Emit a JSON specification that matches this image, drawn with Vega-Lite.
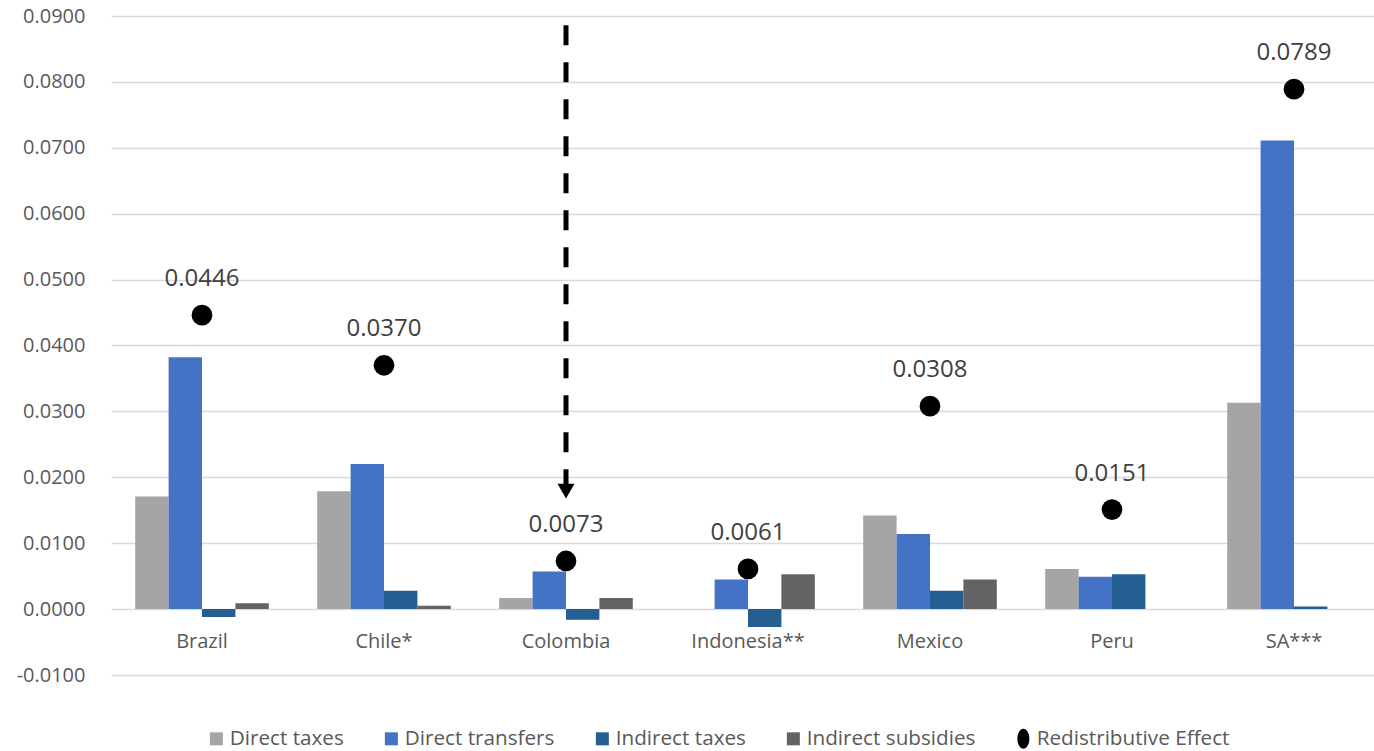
{
  "$schema": "https://vega.github.io/schema/vega-lite/v6.json",
  "autosize": {"type": "none"},
  "width": 1266,
  "height": 659,
  "padding": {"left": 108, "top": 16, "right": 0, "bottom": 76},
  "background": "#ffffff",
  "config": {
    "view": {"stroke": null},
    "font": "Open Sans"
  },
  "datasets": {
    "components": [
      {"country": "Brazil", "series": "Direct taxes", "value": 0.0171},
      {"country": "Brazil", "series": "Direct transfers", "value": 0.0382},
      {"country": "Brazil", "series": "Indirect taxes", "value": -0.0012},
      {"country": "Brazil", "series": "Indirect subsidies", "value": 0.0009},
      {"country": "Chile*", "series": "Direct taxes", "value": 0.0179},
      {"country": "Chile*", "series": "Direct transfers", "value": 0.0220},
      {"country": "Chile*", "series": "Indirect taxes", "value": 0.0028},
      {"country": "Chile*", "series": "Indirect subsidies", "value": 0.0005},
      {"country": "Colombia", "series": "Direct taxes", "value": 0.0017},
      {"country": "Colombia", "series": "Direct transfers", "value": 0.0057},
      {"country": "Colombia", "series": "Indirect taxes", "value": -0.0016},
      {"country": "Colombia", "series": "Indirect subsidies", "value": 0.0017},
      {"country": "Indonesia**", "series": "Direct taxes", "value": 0.0},
      {"country": "Indonesia**", "series": "Direct transfers", "value": 0.0045},
      {"country": "Indonesia**", "series": "Indirect taxes", "value": -0.0027},
      {"country": "Indonesia**", "series": "Indirect subsidies", "value": 0.0053},
      {"country": "Mexico", "series": "Direct taxes", "value": 0.0142},
      {"country": "Mexico", "series": "Direct transfers", "value": 0.0114},
      {"country": "Mexico", "series": "Indirect taxes", "value": 0.0028},
      {"country": "Mexico", "series": "Indirect subsidies", "value": 0.0045},
      {"country": "Peru", "series": "Direct taxes", "value": 0.0061},
      {"country": "Peru", "series": "Direct transfers", "value": 0.0049},
      {"country": "Peru", "series": "Indirect taxes", "value": 0.0053},
      {"country": "Peru", "series": "Indirect subsidies", "value": 0.0},
      {"country": "SA***", "series": "Direct taxes", "value": 0.0313},
      {"country": "SA***", "series": "Direct transfers", "value": 0.0711},
      {"country": "SA***", "series": "Indirect taxes", "value": 0.0004},
      {"country": "SA***", "series": "Indirect subsidies", "value": 0.0}
    ],
    "effects": [
      {"country": "Brazil", "series": "Redistributive Effect", "value": 0.0446},
      {"country": "Chile*", "series": "Redistributive Effect", "value": 0.0370},
      {"country": "Colombia", "series": "Redistributive Effect", "value": 0.0073},
      {"country": "Indonesia**", "series": "Redistributive Effect", "value": 0.0061},
      {"country": "Mexico", "series": "Redistributive Effect", "value": 0.0308},
      {"country": "Peru", "series": "Redistributive Effect", "value": 0.0151},
      {"country": "SA***", "series": "Redistributive Effect", "value": 0.0789}
    ],
    "pointer": [
      {"country": "Colombia", "top": 0.0886, "bottom": 0.0190, "head": 0.0179}
    ]
  },
  "encoding": {
    "x": {
      "field": "country",
      "type": "nominal",
      "sort": ["Brazil", "Chile*", "Colombia", "Indonesia**", "Mexico", "Peru", "SA***"],
      "scale": {"range": [3, 1277], "paddingInner": 0.266, "paddingOuter": 0.133},
      "axis": {
        "title": null,
        "domain": false,
        "ticks": false,
        "grid": false,
        "offset": -66.3,
        "labelPadding": 23,
        "labelAngle": 0,
        "labelFont": "Open Sans",
        "labelFontSize": 20,
        "labelColor": "#595959"
      }
    }
  },
  "layer": [
    {
      "data": {"name": "components"},
      "mark": {"type": "bar"},
      "encoding": {
        "xOffset": {
          "field": "series",
          "type": "nominal",
          "sort": ["Direct taxes", "Direct transfers", "Indirect taxes", "Indirect subsidies"],
          "scale": {"paddingInner": 0, "paddingOuter": 0}
        },
        "y": {
          "field": "value",
          "type": "quantitative",
          "scale": {"domain": [-0.01, 0.09], "nice": false, "zero": false},
          "axis": {
            "title": null,
            "values": [-0.01, 0, 0.01, 0.02, 0.03, 0.04, 0.05, 0.06, 0.07, 0.08, 0.09],
            "format": ".4f",
            "labelExpr": "replace(datum.label, '\u2212', '-')",
            "domain": false,
            "ticks": false,
            "grid": true,
            "gridColor": "#d9d9d9",
            "gridWidth": 1.6,
            "labelPadding": 23,
            "labelFont": "Open Sans",
            "labelFontSize": 20,
            "labelColor": "#595959"
          }
        },
        "color": {
          "field": "series",
          "type": "nominal",
          "scale": {
            "domain": ["Direct taxes", "Direct transfers", "Indirect taxes", "Indirect subsidies", "Redistributive Effect"],
            "range": ["#a5a5a5", "#4472c4", "#255e91", "#636363", "#000000"]
          },
          "legend": {
            "title": null,
            "orient": "none",
            "direction": "horizontal",
            "legendX": 98,
            "legendY": 712,
            "padding": 0,
            "symbolType": "square",
            "symbolSize": 169,
            "symbolStrokeWidth": 0,
            "labelFont": "Open Sans",
            "labelFontSize": 20.7,
            "labelColor": "#595959",
            "labelLimit": 0,
            "labelOffset": 3,
            "columnPadding": 37,
            "encode": {
              "symbols": {
                "update": {
                  "shape": {"signal": "datum.value === 'Redistributive Effect' ? 'M0,-1A0.6,1,0,1,1,0,1A0.6,1,0,1,1,0,-1Z' : 'square'"},
                  "size": {"signal": "datum.value === 'Redistributive Effect' ? 400 : 169"},
                  "strokeWidth": {"value": 0},
                  "opacity": {"value": 1}
                }
              }
            }
          }
        }
      }
    },
    {
      "data": {"name": "pointer"},
      "mark": {"type": "rule", "color": "#000000", "strokeWidth": 5, "strokeDash": [20, 17]},
      "encoding": {
        "y": {"field": "top", "type": "quantitative"},
        "y2": {"field": "bottom"}
      }
    },
    {
      "data": {"name": "pointer"},
      "mark": {"type": "point", "shape": "triangle-down", "filled": true, "size": 289, "color": "#000000", "opacity": 1},
      "encoding": {
        "y": {"field": "head", "type": "quantitative"}
      }
    },
    {
      "data": {"name": "effects"},
      "mark": {"type": "point", "shape": "circle", "filled": true, "size": 430, "opacity": 1},
      "encoding": {
        "y": {"field": "value", "type": "quantitative"},
        "color": {"field": "series", "type": "nominal"}
      }
    },
    {
      "data": {"name": "effects"},
      "mark": {"type": "text", "dy": -29, "baseline": "alphabetic", "align": "center", "font": "Open Sans", "fontSize": 24, "color": "#404040"},
      "encoding": {
        "y": {"field": "value", "type": "quantitative"},
        "text": {"field": "value", "type": "quantitative", "format": ".4f"}
      }
    }
  ]
}
